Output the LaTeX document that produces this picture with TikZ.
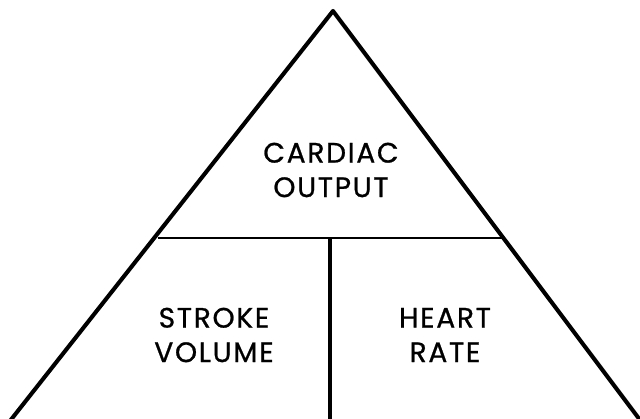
\documentclass[tikz,border=0pt]{standalone}
\usepackage{fontspec}
\newfontfamily\lblfont{Poppins}[LetterSpace=6,FakeBold=0.8]
\begin{document}
\begin{tikzpicture}[x=0.025cm,y=-0.025cm,line join=round,
		lbl/.style={align=center,font=\fontsize{20}{24.5}\selectfont\lblfont,inner sep=0pt}]
				\useasboundingbox (0,0) rectangle (640,419);
				\clip (0,0) rectangle (640,419);
				\coordinate (apex) at (333,11);
				\coordinate (bl) at (-5,440);
				\coordinate (br) at (655,440);
				\coordinate (ml) at (158,238);
				\coordinate (mr) at (503,238);
				\coordinate (mid) at (330,238);
				\coordinate (bot) at (330,430);
				\draw[line width=2.9pt] (bl)--(apex)--(br);
				\draw[line width=1.8pt] (ml)--(mr);
				\draw[line width=2.2pt] (mid)--(bot);
				\node[lbl] (co) at (331,170) {CARDIAC\\OUTPUT};
				\node[lbl] (sv) at (214,335) {STROKE\\VOLUME};
				\node[lbl] (hr) at (445,335) {HEART\\RATE};
			\end{tikzpicture}
\end{document}
